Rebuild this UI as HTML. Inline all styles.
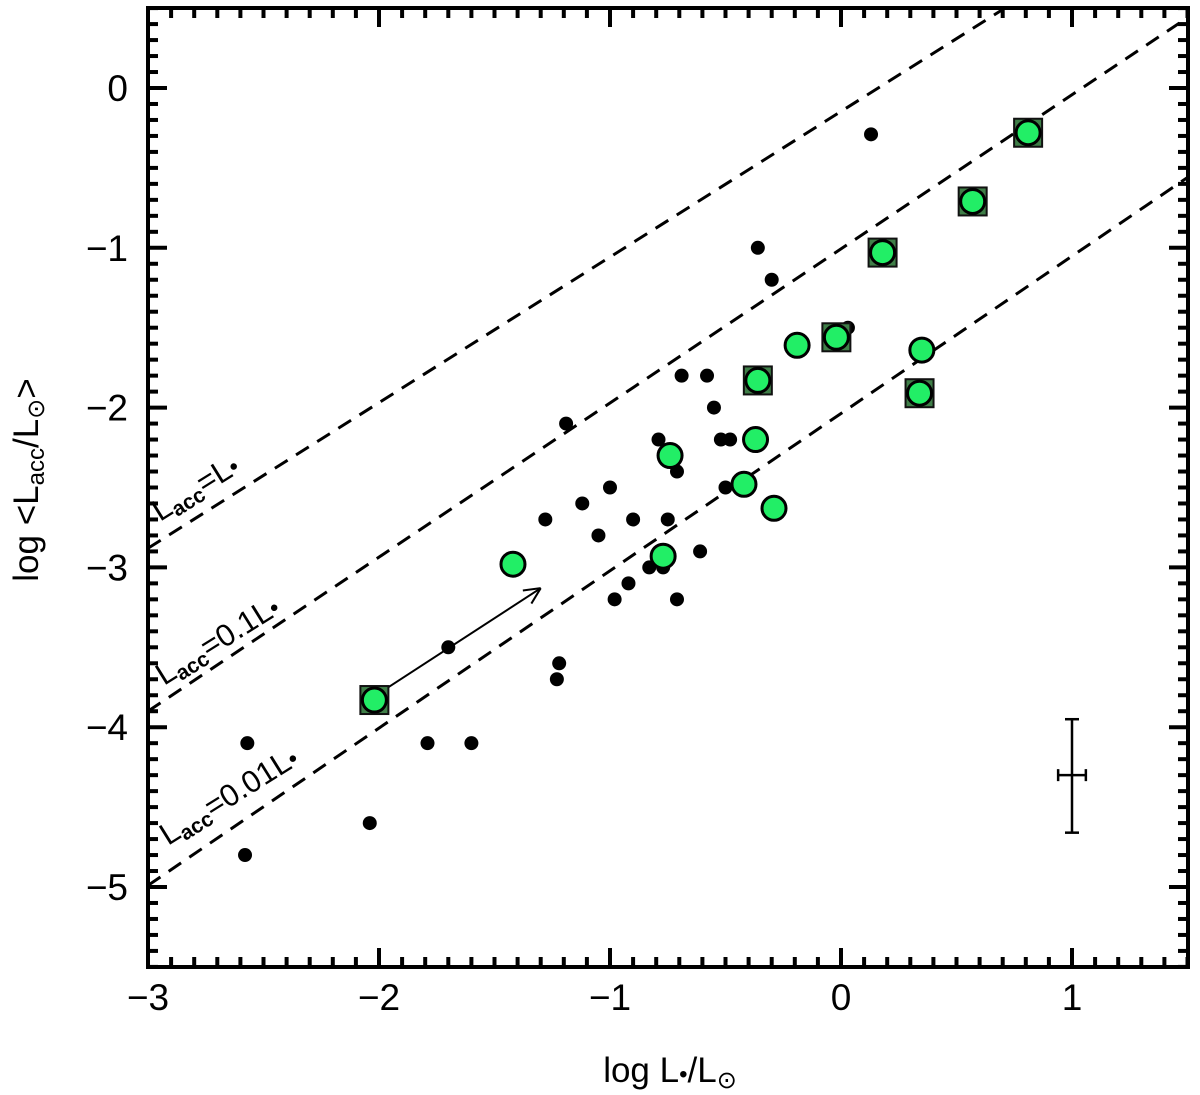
<!DOCTYPE html>
<html><head><meta charset="utf-8"><style>
html,body{margin:0;padding:0;background:#fff;}
svg{display:block;font-family:"Liberation Sans",sans-serif;}
</style></head><body>
<svg id="chart" width="1200" height="1095" viewBox="0 0 1200 1095" xmlns="http://www.w3.org/2000/svg"></svg>
<script>
const blackX=[0.13,-0.36,-0.30,0.03,-1.19,-0.79,-0.71,-0.69,-0.58,-0.55,-0.52,-0.48,-0.50,-1.00,-1.12,-1.28,-1.05,-0.90,-0.75,-0.61,-0.83,-0.77,-0.92,-0.98,-0.71,-1.22,-1.23,-1.70,-1.79,-1.60,-2.57,-2.04,-2.58,0.82];
const blackY=[-0.29,-1.00,-1.20,-1.50,-2.10,-2.20,-2.40,-1.80,-1.80,-2.00,-2.20,-2.20,-2.50,-2.50,-2.60,-2.70,-2.80,-2.70,-2.70,-2.90,-3.00,-3.00,-3.10,-3.20,-3.20,-3.60,-3.70,-3.50,-4.10,-4.10,-4.10,-4.60,-4.80,-0.24];
const greenX=[-0.74,-0.19,0.35,-0.37,-0.42,-0.29,-1.42,-0.77];
const greenY=[-2.30,-1.61,-1.64,-2.20,-2.48,-2.63,-2.98,-2.93];
const sqX=[0.81,0.57,0.18,-0.02,-0.36,0.34,-2.02];
const sqY=[-0.28,-0.71,-1.03,-1.56,-1.83,-1.91,-3.83];
const lineNames=["line-lacc-eq-l","line-lacc-0.1l","line-lacc-0.01l"];
const lineX0=[-3,-3,-3], lineY0=[-2.88,-3.90,-4.99];
const lineX1=[1.5,1.5,1.5], lineY1=[1.22,0.44,-0.56];
const xTicks=[-3,-2,-1,0,1];
const xTickLabels=["\u22123","\u22122","\u22121","0","1"];
const yTicks=[0,-1,-2,-3,-4,-5];
const yTickLabels=["0","\u22121","\u22122","\u22123","\u22124","\u22125"];

const L=148,R=1188,T=8,B=967;
const X=v=>L+(v+3)*231;
const Y=v=>88-v*159.8;
const NS="http://www.w3.org/2000/svg";
const svg=document.getElementById('chart');
function mk(tag,attrs,parent){const e=document.createElementNS(NS,tag);for(const k in attrs)e.setAttribute(k,attrs[k]);(parent||svg).appendChild(e);return e;}
const defs=mk('defs',{});
const cp=mk('clipPath',{id:'clip'},defs);mk('rect',{x:L,y:T,width:R-L,height:B-T},cp);
const plot=mk('g',{'clip-path':'url(#clip)'});


for(let i=0;i<3;i++){
 const l=mk('line',{x1:X(lineX0[i]),y1:Y(lineY0[i]),x2:X(lineX1[i]),y2:Y(lineY1[i]),stroke:'#000','stroke-width':3,'stroke-dasharray':'15 10'},plot);
 
 
}
const labs=[[160,522,"=L"],[164,686,"=0.1L"],[168,846,"=0.01L"]];
const labNames=["label-lacc-eq-l","label-lacc-0.1l","label-lacc-0.01l"];
labs.forEach((a,i)=>{
 const t=mk('text',{x:a[0],y:a[1],'font-size':31,transform:`rotate(-32 ${a[0]} ${a[1]})`});
 
 
 t.innerHTML=`L<tspan font-size="21" dy="5" font-weight="bold">acc</tspan><tspan dy="-5">${a[2]}</tspan><tspan font-size="24">&#8226;</tspan>`;
});
const arr=mk('g',{stroke:'#000','stroke-width':2,fill:'none'},plot);


const ax1=X(-1.97),ay1=Y(-3.76),ax2=X(-1.30),ay2=Y(-3.13);
mk('line',{x1:ax1,y1:ay1,x2:ax2,y2:ay2},arr);
const ang=Math.atan2(ay2-ay1,ax2-ax1);
[0.45,-0.45].forEach(d=>mk('line',{x1:ax2,y1:ay2,x2:ax2-18*Math.cos(ang+d),y2:ay2-18*Math.sin(ang+d)},arr));
for(let i=0;i<blackX.length;i++){
 const c=mk('circle',{cx:X(blackX[i]),cy:Y(blackY[i]),r:7,fill:'#000'},plot);
 
 
}
for(let i=0;i<sqX.length;i++){
 const s=mk('rect',{x:X(sqX[i])-14,y:Y(sqY[i])-14,width:28,height:28,fill:'#3f7f48',stroke:'#111','stroke-width':2},plot);
 
 
 const c=mk('circle',{cx:X(sqX[i]),cy:Y(sqY[i]),r:12,fill:'#22ee66',stroke:'#000','stroke-width':3},plot);
 
 
}
for(let i=0;i<greenX.length;i++){
 const c=mk('circle',{cx:X(greenX[i]),cy:Y(greenY[i]),r:12,fill:'#22ee66',stroke:'#000','stroke-width':3},plot);
 
 
}
const eb=mk('g',{stroke:'#000','stroke-width':2.5},plot);


mk('line',{x1:X(1),y1:Y(-3.95),x2:X(1),y2:Y(-4.66)},eb);
mk('line',{x1:X(1)-7,y1:Y(-3.95),x2:X(1)+7,y2:Y(-3.95)},eb);
mk('line',{x1:X(1)-7,y1:Y(-4.66),x2:X(1)+7,y2:Y(-4.66)},eb);
mk('line',{x1:X(0.94),y1:Y(-4.3),x2:X(1.06),y2:Y(-4.3)},eb);
mk('line',{x1:X(0.94),y1:Y(-4.3)-6,x2:X(0.94),y2:Y(-4.3)+6},eb);
mk('line',{x1:X(1.06),y1:Y(-4.3)-6,x2:X(1.06),y2:Y(-4.3)+6},eb);
const ax=mk('g',{stroke:'#000','stroke-width':4});


mk('rect',{x:L,y:T,width:R-L,height:B-T,fill:'none'},ax);
for(let k=-30;k<=15;k++){const v=k/10,px=X(v),len=(k%10===0)?19:10;
 mk('line',{x1:px,y1:B,x2:px,y2:B-len},ax);mk('line',{x1:px,y1:T,x2:px,y2:T+len},ax);}
for(let k=-55;k<=5;k++){const v=k/10,py=Y(v),len=(k%10===0)?19:10;
 mk('line',{x1:L,y1:py,x2:L+len,y2:py},ax);mk('line',{x1:R,y1:py,x2:R-len,y2:py},ax);}
xTicks.forEach((v,i)=>{const t=mk('text',{x:X(v),y:1010,'font-size':37,'text-anchor':'middle'});t.textContent=xTickLabels[i];
 });
yTicks.forEach((v,i)=>{const t=mk('text',{x:128,y:Y(v)+13,'font-size':37,'text-anchor':'end'});t.textContent=yTickLabels[i];
 });
const xt=mk('text',{x:670,y:1082,'font-size':35,'text-anchor':'middle'});

xt.innerHTML='log L<tspan font-size="24">&#8226;</tspan>/L<tspan font-size="24" dy="6">&#8857;</tspan>';
const yt=mk('text',{x:38,y:480,'font-size':35,'text-anchor':'middle',transform:'rotate(-90 38 480)'});

yt.innerHTML='log &lt;L<tspan font-size="24" dy="6">acc</tspan><tspan dy="-6">/L</tspan><tspan font-size="24" dy="6">&#8857;</tspan><tspan dy="-6">&gt;</tspan>';
</script>
</body></html>
